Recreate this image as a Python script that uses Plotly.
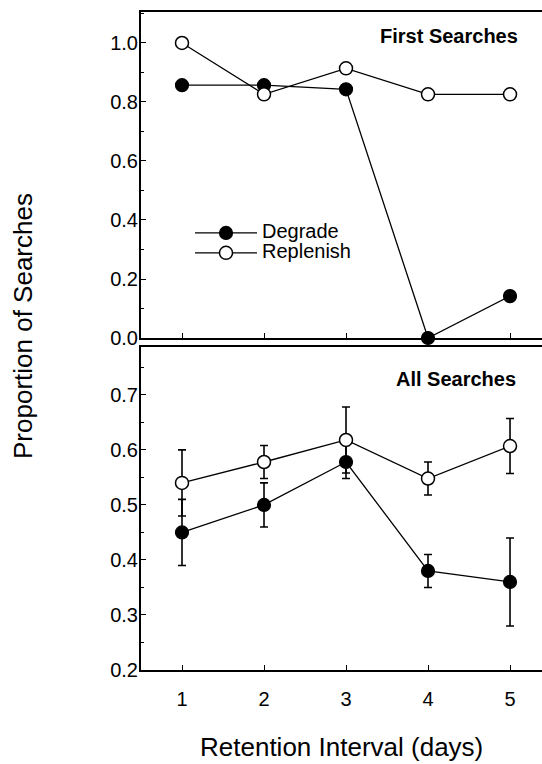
import plotly.graph_objects as go

days = [1, 2, 3, 4, 5]
x_tick_labels = ["1", "2", "3", "4", "5"]

first_degrade = [0.857, 0.857, 0.843, 0.0, 0.142]
first_replenish = [1.0, 0.826, 0.914, 0.826, 0.826]

all_degrade = [0.45, 0.50, 0.578, 0.38, 0.36]
all_degrade_err = [0.06, 0.04, 0.03, 0.03, 0.08]
all_replenish = [0.54, 0.578, 0.618, 0.548, 0.607]
all_replenish_err = [0.06, 0.03, 0.06, 0.03, 0.05]

FONT = "Liberation Sans, Arial, Helvetica, sans-serif"

fig = go.Figure()

filled = dict(symbol="circle", size=13, color="black", line=dict(color="black", width=1.2))
opened = dict(symbol="circle", size=13, color="white", line=dict(color="black", width=1.5))
line_style = dict(color="black", width=1.3)

def legend_name(s):
    return '<span style="font-size:20px">' + s + '</span>'

# Top panel: First Searches
fig.add_trace(go.Scatter(x=days, y=first_degrade, mode="lines+markers", name=legend_name("Degrade"),
                         marker=filled, line=line_style, cliponaxis=False,
                         xaxis="x", yaxis="y", showlegend=True))
fig.add_trace(go.Scatter(x=days, y=first_replenish, mode="lines+markers", name=legend_name("Replenish"),
                         marker=opened, line=line_style, cliponaxis=False,
                         xaxis="x", yaxis="y", showlegend=True))

# Bottom panel: All Searches
err_style = dict(type="data", thickness=1.6, width=4, color="black")
fig.add_trace(go.Scatter(x=days, y=all_degrade, mode="lines+markers", name="Degrade",
                         marker=filled, line=line_style, cliponaxis=False,
                         error_y=dict(array=all_degrade_err, **err_style),
                         xaxis="x2", yaxis="y2", showlegend=False))
fig.add_trace(go.Scatter(x=days, y=all_replenish, mode="lines+markers", name="Replenish",
                         marker=opened, line=line_style, cliponaxis=False,
                         error_y=dict(array=all_replenish_err, **err_style),
                         xaxis="x2", yaxis="y2", showlegend=False))

W, H = 542, 764
L, R, T, B = 141, 0, 12, 94
plot_h = H - T - B
plot_w = W - L - R
top_dom = [(670 - 338) / plot_h, 1.0]
bot_dom = [0.0, (670 - 347) / plot_h]

xcommon = dict(range=[0.5, 5.39], tickvals=days, ticktext=x_tick_labels,
               ticks="inside", ticklen=5, tickwidth=1.3, tickcolor="black",
               showline=True, linecolor="black", linewidth=2, mirror=True,
               showgrid=False, zeroline=False,
               tickfont=dict(family=FONT, size=20, color="black"))

ycommon = dict(ticks="inside", ticklen=5, tickwidth=1.3, tickcolor="black",
               showline=True, linecolor="black", linewidth=2,
               showgrid=False, zeroline=False,
               tickfont=dict(family=FONT, size=20, color="black"),
               ticklabelstandoff=-3)

fig.update_layout(
    width=W, height=H,
    margin=dict(l=L, r=R, t=T, b=B),
    paper_bgcolor="white", plot_bgcolor="white",
    font=dict(family=FONT, color="black"),
    xaxis=dict(domain=[0, 1], anchor="y", showticklabels=False, **xcommon),
    yaxis=dict(domain=top_dom, anchor="x", range=[0, 1.105],
               tickvals=[0.0, 0.2, 0.4, 0.6, 0.8, 1.0],
               ticktext=["0.0", "0.2", "0.4", "0.6", "0.8", "1.0"],
               minor=dict(dtick=0.1, ticks="inside", ticklen=3, tickcolor="black", tickwidth=1),
               **ycommon),
    xaxis2=dict(domain=[0, 1], anchor="y2", showticklabels=True, ticklabelstandoff=10, **xcommon),
    yaxis2=dict(domain=bot_dom, anchor="x2", range=[0.2, 0.787],
                tickvals=[0.2, 0.3, 0.4, 0.5, 0.6, 0.7],
                ticktext=["0.2", "0.3", "0.4", "0.5", "0.6", "0.7"],
                minor=dict(tick0=0.2, dtick=0.05, ticks="inside", ticklen=3, tickcolor="black", tickwidth=1),
                **ycommon),
    legend=dict(x=(190 - L) / plot_w, y=(670 - 218) / plot_h, xanchor="left", yanchor="top",
                bgcolor="rgba(0,0,0,0)", borderwidth=0,
                font=dict(family=FONT, size=13, color="black"),
                itemwidth=62, tracegroupgap=0),
    annotations=[
        dict(text="<b>First Searches</b>", xref="paper", yref="paper",
             x=(520 - L) / plot_w, y=(670 - 36) / plot_h, xanchor="right", yanchor="middle",
             showarrow=False, font=dict(family=FONT, size=20, color="black")),
        dict(text="<b>All Searches</b>", xref="paper", yref="paper",
             x=(518 - L) / plot_w, y=(670 - 379) / plot_h, xanchor="right", yanchor="middle",
             showarrow=False, font=dict(family=FONT, size=20, color="black")),
        dict(text="Retention Interval (days)", xref="paper", yref="paper",
             x=0.5, y=(670 - 747) / plot_h, xanchor="center", yanchor="middle",
             showarrow=False, font=dict(family=FONT, size=26, color="black")),
        dict(text="Proportion of Searches", xref="paper", yref="paper",
             x=(23 - L) / plot_w, y=(670 - 326) / plot_h, xanchor="center", yanchor="middle",
             textangle=-90, showarrow=False, font=dict(family=FONT, size=26, color="black")),
    ],
)

fig.write_html("out.html", config={"displayModeBar": False},
               post_script="document.body.style.margin='0';")
